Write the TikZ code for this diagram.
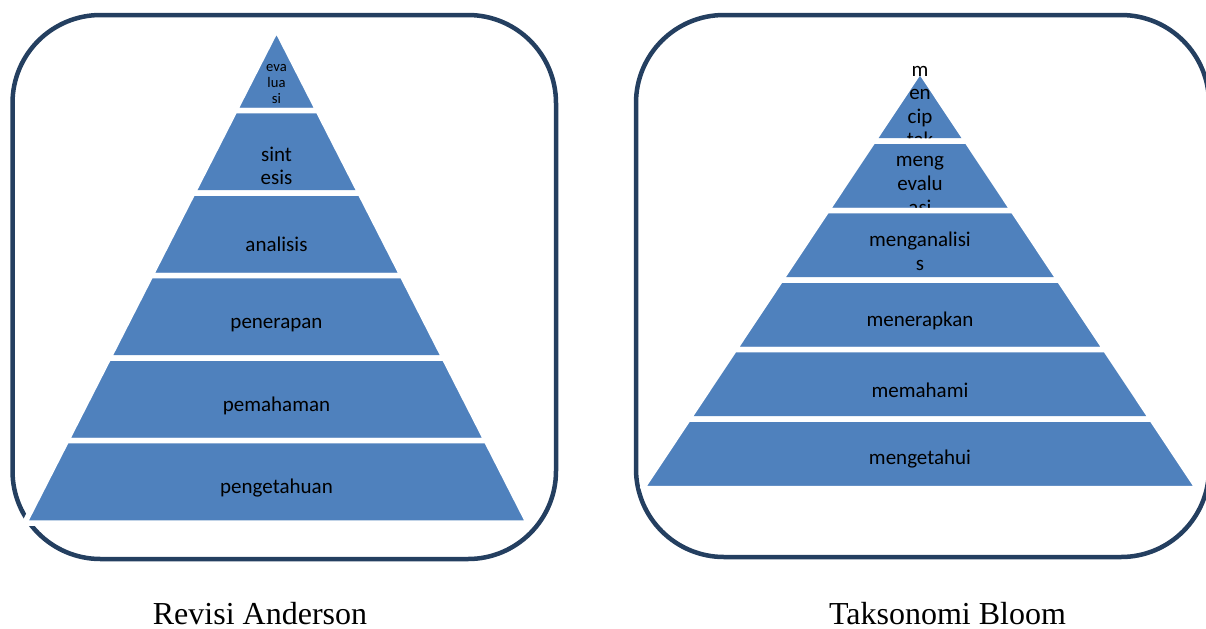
\documentclass[tikz,border=0pt]{standalone}
\usepackage{fontspec}
\setmainfont{Liberation Serif}
\newfontfamily\calibri{Carlito}
\usepackage{tikz}
\definecolor{framecol}{RGB}{36,63,96}
\definecolor{tiercol}{RGB}{79,129,189}
\tikzstyle{outer frame} = [draw=framecol, line width=2.25pt, rounded corners=44pt]
\tikzstyle{tier} = [fill=tiercol, draw=white, line width=2.75pt, line join=bevel]
\tikzstyle{word} = [font=\calibri\fontsize{10.5}{11.8}\selectfont, align=center, inner sep=0pt]
\tikzstyle{small word} = [word, font=\calibri\fontsize{7.3}{8.2}\selectfont]
\tikzstyle{caption} = [font=\fontsize{16}{19}\selectfont, inner sep=0pt, anchor=base]

\begin{document}
\begin{tikzpicture}[x=0.5pt, y=-0.5pt]
    \useasboundingbox (0, 0) rectangle (1206, 628);

    \draw [outer frame] (12.5, 15) rectangle (556, 559);
    \draw [outer frame] (636, 15) rectangle (1209, 557);

    % Revisi Anderson
    \path [tier] (276.5, 29) -- (318.1, 110.5) -- (234.9, 110.5) -- cycle;
    \node (anderson 1) [small word] at (276.5, 84) {eva\\lua\\si};
    \foreach \i/\txt/\ty in {2/{sint\\esis}/166, 3/analisis/244, 4/penerapan/325, 5/pemahaman/406, 6/pengetahuan/488} {
        \pgfmathsetmacro{\ya}{110.5 + 82.5 * (\i - 2)}
        \pgfmathsetmacro{\yb}{110.5 + 82.5 * (\i - 1)}
        \pgfmathsetmacro{\wa}{0.51 * (\ya - 29)}
        \pgfmathsetmacro{\wb}{0.51 * (\yb - 29)}
        \path [tier] (276.5 - \wa, \ya) -- (276.5 + \wa, \ya) -- (276.5 + \wb, \yb) -- (276.5 - \wb, \yb) -- cycle;
        \node (anderson \i) [word] at (276.5, \ty) {\txt};
    }

    % Taksonomi Bloom
    \path [tier] (920, 70.6) -- (966.8, 141) -- (873.2, 141) -- cycle;
    \node (bloom 1) [word] at (920, 106.5) {m\\en\\cip\\tak};
    \foreach \i/\txt/\ty in {2/{meng\\evalu\\asi}/185.5, 3/{menganalisi\\s}/251, 4/menerapkan/321, 5/memahami/390, 6/mengetahui/459} {
        \pgfmathsetmacro{\ya}{141 + 69.5 * (\i - 2)}
        \pgfmathsetmacro{\yb}{141 + 69.5 * (\i - 1)}
        \pgfmathsetmacro{\wa}{0.665 * (\ya - 70.6)}
        \pgfmathsetmacro{\wb}{0.665 * (\yb - 70.6)}
        \path [tier] (920 - \wa, \ya) -- (920 + \wa, \ya) -- (920 + \wb, \yb) -- (920 - \wb, \yb) -- cycle;
        \node (bloom \i) [word] at (920, \ty) {\txt};
    }

    \node (anderson caption) [caption] at (260, 624) {Revisi Anderson};
    \node (bloom caption) [caption] at (947.5, 624) {Taksonomi Bloom};
\end{tikzpicture}
\end{document}
